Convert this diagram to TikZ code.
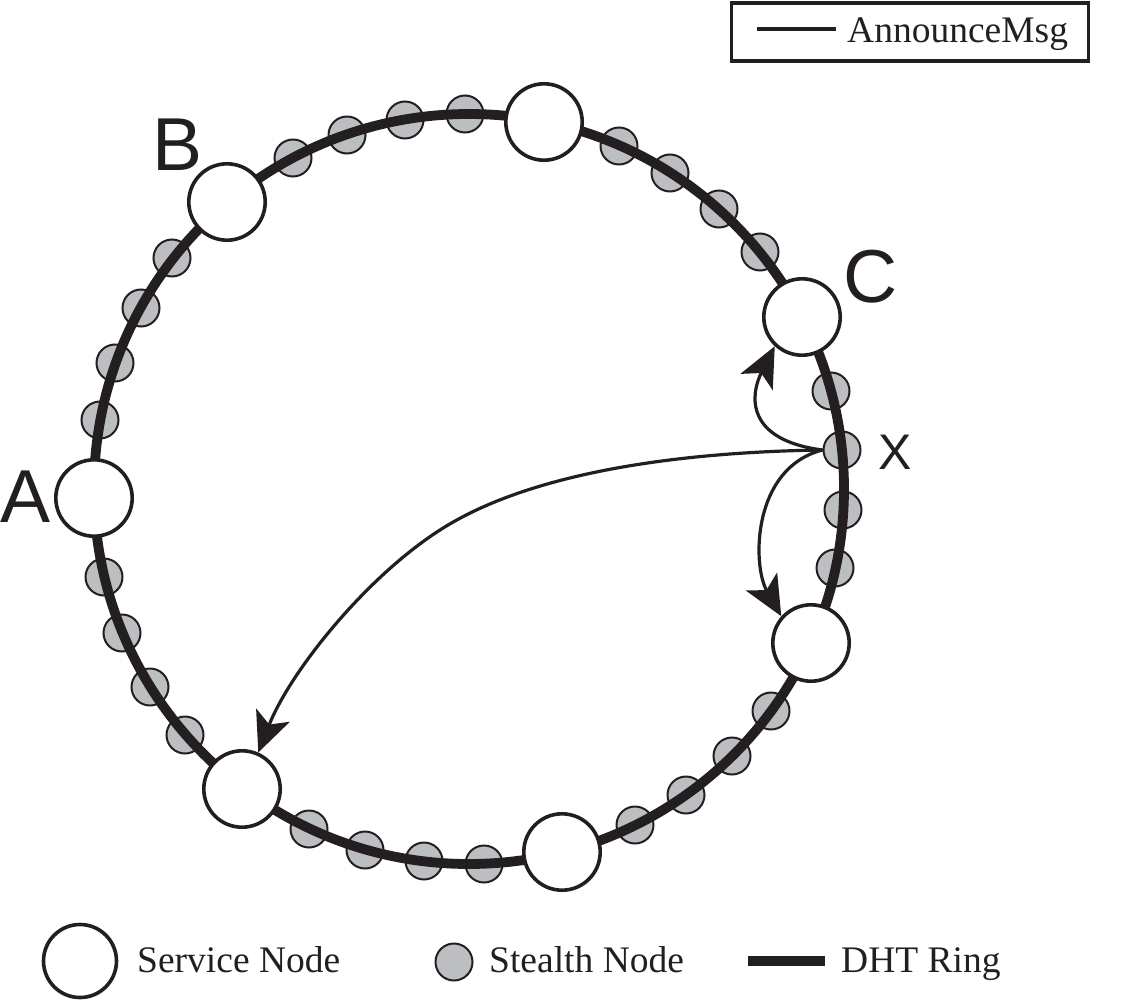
\documentclass[tikz,border=0pt]{standalone}
\usepackage{fontspec}
\setmainfont{Liberation Serif}
\newfontfamily\labfont{Liberation Sans}
\usetikzlibrary{arrows.meta}
\definecolor{ink}{RGB}{35,31,32}
\definecolor{stealthgray}{RGB}{189,190,194}
\tikzset{
  svc/.style={circle, draw=ink, fill=white, line width=3.6pt, minimum size=76.4pt, inner sep=0pt},
  stl/.style={circle, draw=ink, fill=stealthgray, line width=2pt, minimum size=37pt, inner sep=0pt},
  ringline/.style={draw=ink, line width=9.8pt},
  msg/.style={draw=ink, line width=3.2pt, -{Stealth[length=40pt,width=36pt,inset=10pt]}},
  biglab/.style={font=\labfont\fontsize{75}{80}\selectfont, inner sep=0pt, anchor=base, text=ink},
  leg/.style={font=\fontsize{37.5}{40}\selectfont, inner sep=0pt, anchor=base west, text=ink},
}
\begin{document}
\begin{tikzpicture}[x=1pt,y=-1pt]
\useasboundingbox (0,0) rectangle (1142,1008);
% stealth nodes (under the ring)
\node[stl] (s1) at (100,420) {};
\node[stl] (s2) at (115,363) {};
\node[stl] (s3) at (141,308) {};
\node[stl] (s4) at (172,258) {};
\node[stl] (s5) at (293,158) {};
\node[stl] (s6) at (347,135) {};
\node[stl] (s7) at (405,120) {};
\node[stl] (s8) at (465,114) {};
\node[stl] (s9) at (619,146) {};
\node[stl] (s10) at (670,173) {};
\node[stl] (s11) at (719,209) {};
\node[stl] (s12) at (760,252) {};
\node[stl] (s13) at (831,391) {};
\node[stl] (X) at (842,450) {};
\node[stl] (s15) at (843,510) {};
\node[stl] (s16) at (835,568) {};
\node[stl] (s17) at (771,711) {};
\node[stl] (s18) at (732,756) {};
\node[stl] (s19) at (686,795) {};
\node[stl] (s20) at (635,825) {};
\node[stl] (s21) at (484,864) {};
\node[stl] (s22) at (424,861) {};
\node[stl] (s23) at (365,850) {};
\node[stl] (s24) at (309,829) {};
\node[stl] (s25) at (185,735) {};
\node[stl] (s26) at (150,687) {};
\node[stl] (s27) at (122,633) {};
\node[stl] (s28) at (104,577) {};
% DHT ring
\coordinate (O) at (469,489);
\draw[ringline] (O) circle[radius=375];
% service nodes
\node[svc] (A) at (94,498) {};
\node[svc] (B) at (227,202) {};
\node[svc] (T) at (544,122) {};
\node[svc] (C) at (802,317) {};
\node[svc] (LR) at (811,643) {};
\node[svc] (BT) at (562,852) {};
\node[svc] (BL) at (242,789) {};
% labels
\node[biglab] (labA) at (26,522) {A};
\node[biglab] (labB) at (177.5,171) {B};
\node[biglab] (labC) at (870.5,302) {C};
\node[biglab, font=\labfont\fontsize{50}{54}\selectfont] (labX) at (895.5,469) {X};
% announce messages
\draw[msg] (X.west) .. controls (745,440) and (750,395) .. (C.227);
\draw[msg] (X.west) .. controls (752,468) and (752,565) .. (LR.138);
\draw[msg] (X.west) .. controls (680,452) and (530,472) .. (440,530)
  .. controls (365,578) and (290,672) .. (BL.66);
% legend top
\node[draw=ink, line width=3.3pt, minimum width=357pt, minimum height=58pt, anchor=north west, inner sep=0pt] (box) at (730,1.5) {};
\coordinate (amL) at (757,29);
\coordinate (amR) at (836,29);
\draw[ink, line width=3.3pt] (amL) -- (amR);
\node[leg] (amT) at (847,43) {AnnounceMsg};
% legend bottom
\node[svc, minimum size=73pt] (legS) at (80,961) {};
\node[leg] (legST) at (137,972) {Service Node};
\node[stl] (legT) at (454,962) {};
\node[leg] (legTT) at (489,972) {Stealth Node};
\coordinate (dhtL) at (748,961);
\coordinate (dhtR) at (825,961);
\draw[ringline] (dhtL) -- (dhtR);
\node[leg] (legDT) at (841,972) {DHT Ring};
\end{tikzpicture}
\end{document}
